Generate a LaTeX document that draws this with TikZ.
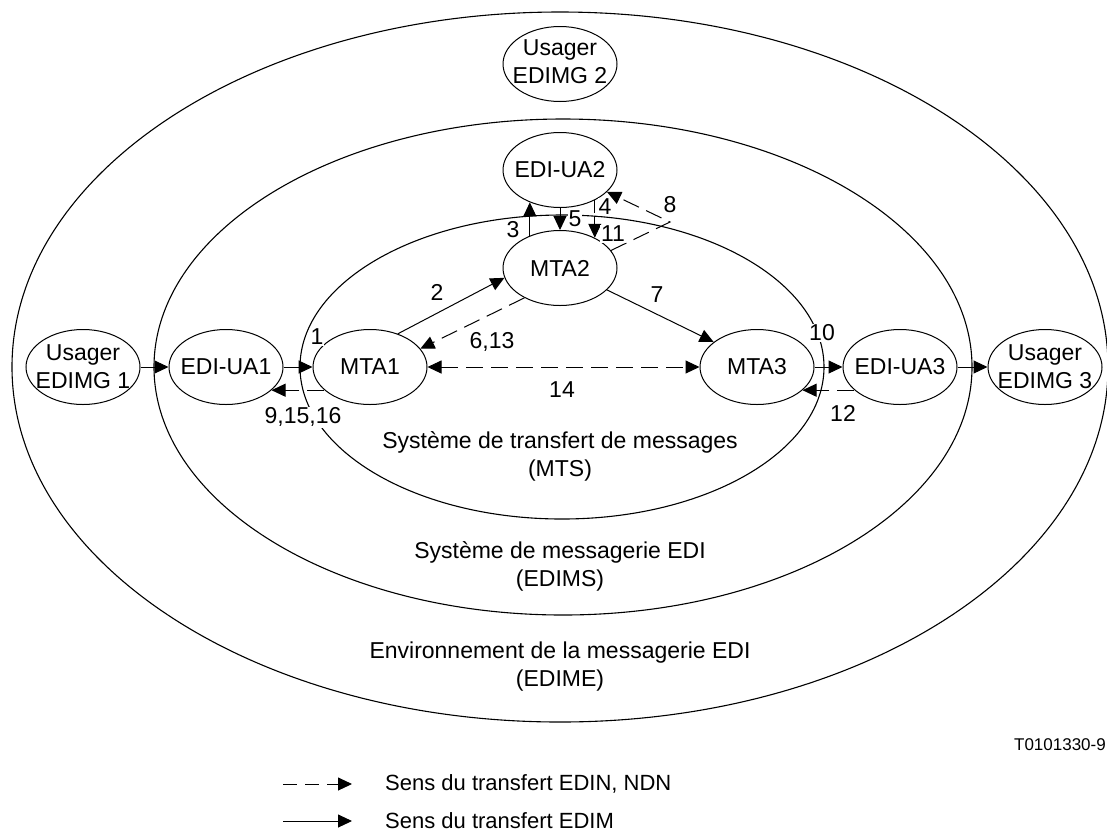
\documentclass[tikz,border=0pt]{standalone}
\usepackage{fontspec}
\setmainfont{Liberation Sans}
\usetikzlibrary{shapes.geometric,arrows.meta,calc}
\begin{document}
\begin{tikzpicture}[x=1pt,y=-1pt,
  ent/.style={ellipse,draw,fill=white,line width=1pt,minimum width=114pt,minimum height=75pt,inner sep=0pt},
  txt/.style={font=\fontsize{23}{28}\selectfont,align=center,inner sep=1pt},
  num/.style={font=\fontsize{23}{28}\selectfont,fill=white,inner sep=1pt},
  key/.style={font=\fontsize{22}{26}\selectfont,anchor=base west,inner sep=0pt},
  edim/.style={line width=1pt,-{Triangle[length=14pt,width=13pt]}},
  edin/.style={edim,dash pattern=on 17pt off 8pt},
  zone/.style={line width=1.1pt}]
\useasboundingbox (0,0) rectangle (1107,831);

% nested domains
\draw[zone] (560,367) ellipse [x radius=548, y radius=355];
\draw[zone] (563,367) ellipse [x radius=409, y radius=248];
\draw[zone] (562,367) ellipse [x radius=262, y radius=152];

% domain captions
\node[txt] (mts)   at (560,456) {Système de transfert de messages\\(MTS)};
\node[txt] (edims) at (560,566) {Système de messagerie EDI\\(EDIMS)};
\node[txt] (edime) at (560,667) {Environnement de la messagerie EDI\\(EDIME)};

% functional entities
\node[ent,label={[txt,yshift=2pt]center:{Usager\\EDIMG 2}}] (u2) at (560,64) {};
\node[ent,label={[txt]center:EDI-UA2}] (ua2) at (560,170) {};
\node[ent,label={[txt]center:MTA2}] (mta2) at (560,268) {};
\node[ent,label={[txt]center:{Usager\\EDIMG 1}}] (u1) at (83,367) {};
\node[ent,label={[txt]center:EDI-UA1}] (ua1) at (226,367) {};
\node[ent,label={[txt]center:MTA1}] (mta1) at (370,367) {};
\node[ent,label={[txt]center:MTA3}] (mta3) at (757,367) {};
\node[ent,label={[txt]center:EDI-UA3}] (ua3) at (900,367) {};
\node[ent,label={[txt]center:{Usager\\EDIMG 3}}] (u3) at (1045,367) {};

% transfers
\draw[edim] (u1.east) -- (ua1.west);
\draw[edim] (ua1.east) -- (mta1.west);
\draw[edin] (mta1.207) -- (ua1.333);
\draw[edim] (mta1.50) -- (mta2.190);
\draw[edin] (mta2.220) -- (mta1.20);
\draw[edin,{Triangle[length=14pt,width=13pt]}-{Triangle[length=14pt,width=13pt]}] (mta1.east) -- (mta3.west);
\draw[edim] (mta2.335) -- (mta3.150);
\draw[edim] (mta3.east) -- (ua3.west);
\draw[edin] (ua3.207) -- (mta3.333);
\draw[edim] (ua3.east) -- (u3.west);
\draw[edim] (mta2.133) -- (ua2.227);
\draw[edim] (ua2.south) -- (mta2.north);
\draw[edin,dash pattern=on 13pt off 3pt] (ua2.319) -- (mta2.41);
\coordinate (k8) at (670,222);
\draw[edin] (mta2.19) -- (k8) -- (ua2.335);

% flow numbers
\node[num] (n1)  at (317,337) {1};
\node[num] (n2)  at (437,292) {2};
\node[num] (n3)  at (513,230) {3};
\node[num] (n4)  at (605,207) {4};
\node[num] (n5)  at (575,219) {5};
\node[num] (n611) at (613,234) {11};
\node[num] (n613) at (492,342) {6,13};
\node[num] (n7)  at (657,295) {7};
\node[num] (n8)  at (670,205) {8};
\node[num] (n9)  at (303,417) {9,15,16};
\node[num] (n10) at (822,333) {10};
\node[num] (n12) at (843,413) {12};
\node[num] (n14) at (562,390) {14};

% drawing reference
\node[font=\fontsize{17}{20}\selectfont,anchor=east,inner sep=0pt] (ref) at (1106,745) {T0101330-9};

% legend
\coordinate (la) at (283,784);
\coordinate (lb) at (352,784);
\coordinate (lc) at (283,821);
\coordinate (ld) at (352,821);
\draw[edin,dash pattern=on 14pt off 8pt] (la) -- (lb);
\draw[edim] (lc) -- (ld);
\node[key] (lt1) at (385,790) {Sens du transfert EDIN, NDN};
\node[key] (lt2) at (385,828) {Sens du transfert EDIM};
\end{tikzpicture}
\end{document}
